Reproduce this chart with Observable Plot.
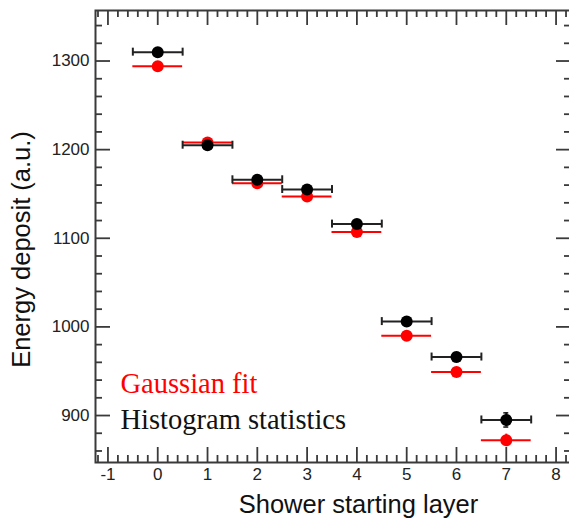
<!DOCTYPE html>
<html>
<head>
<meta charset="utf-8">
<script src="https://cdn.jsdelivr.net/npm/d3@7"></script>
<script src="https://cdn.jsdelivr.net/npm/@observablehq/plot@0.6"></script>
<style>
  html, body { margin: 0; padding: 0; background: #fff; }
  #chart svg { display: block; }
</style>
</head>
<body>
<div id="chart"></div>
<script>
// ---- data ----
const layers = [0, 1, 2, 3, 4, 5, 6, 7];
const histMean = [1310, 1205, 1166, 1155, 1116, 1006, 966, 895];
const histErr = [3, 3, 3, 3, 3, 4, 5, 8];
const gaussMean = [1294, 1208, 1162, 1147, 1107, 990, 949, 872];
const gaussErr = [3, 3, 3, 3, 3, 4, 5, 7];
const layerHalfWidth = 0.5;

const xTicks = [-1, 0, 1, 2, 3, 4, 5, 6, 7, 8];
const yTicks = [900, 1000, 1100, 1200, 1300];
const xMinor = d3.range(-1.2, 8.3, 0.2).map(v => +v.toFixed(1)).filter(v => !xTicks.includes(v));
const yMinor = d3.range(860, 1357, 20).filter(v => !yTicks.includes(v));

const legendLabels = ["Gaussian fit", "Histogram statistics"];
const xLabel = "Shower starting layer";
const yLabel = "Energy deposit (a.u.)";

const hist = layers.map((l, i) => ({layer: l, mean: histMean[i], err: histErr[i]}));
const gauss = layers.map((l, i) => ({layer: l, mean: gaussMean[i], err: gaussErr[i]}));

const W = 569, H = 519;
const mL = 95, mT = 10, mB = 57, mR = -2;
const frameW = W - mL - mR, frameH = H - mT - mB;
const major = 15, minor = 7;
const axisColor = "#3a3a3a";
const red = "#ff0000";
const tw = 1.8;

const chart = Plot.plot({
  width: W,
  height: H,
  marginLeft: mL,
  marginTop: mT,
  marginBottom: mB,
  marginRight: mR,
  style: {fontFamily: "'Liberation Sans', Arial, sans-serif", background: "#fff"},
  x: {domain: [-1.25, 8.31], axis: null},
  y: {domain: [847, 1357], axis: null},
  marks: [
    Plot.frame({stroke: axisColor, strokeWidth: 2}),
    // inward ticks: bottom, top
    Plot.tickX(xTicks, {x: d => d, insetTop: frameH - major, stroke: axisColor, strokeWidth: tw}),
    Plot.tickX(xMinor, {x: d => d, insetTop: frameH - minor, stroke: axisColor, strokeWidth: tw}),
    Plot.tickX(xTicks, {x: d => d, insetBottom: frameH - major, stroke: axisColor, strokeWidth: tw}),
    Plot.tickX(xMinor, {x: d => d, insetBottom: frameH - minor, stroke: axisColor, strokeWidth: tw}),
    // inward ticks: left, right
    Plot.tickY(yTicks, {y: d => d, insetRight: frameW - major, stroke: axisColor, strokeWidth: tw}),
    Plot.tickY(yMinor, {y: d => d, insetRight: frameW - minor, stroke: axisColor, strokeWidth: tw}),
    Plot.tickY(yTicks, {y: d => d, insetLeft: frameW - major, stroke: axisColor, strokeWidth: tw}),
    Plot.tickY(yMinor, {y: d => d, insetLeft: frameW - minor, stroke: axisColor, strokeWidth: tw}),
    // tick labels
    Plot.axisX(xTicks, {tickSize: 0, tickPadding: 5, fontSize: 17, fill: "#222", tickFormat: d => String(d), label: null}),
    Plot.axisY(yTicks, {tickSize: 0, tickPadding: 6, fontSize: 17, fill: "#222", tickFormat: d => String(d), label: null}),
    // axis titles
    Plot.text([xLabel], {frameAnchor: "bottom", dx: 25, dy: 50, lineAnchor: "bottom", textAnchor: "middle", fontSize: 25.5, fill: "#111"}),
    Plot.text([yLabel], {frameAnchor: "left", dx: -74, dy: 13, rotate: -90, lineAnchor: "middle", textAnchor: "middle", fontSize: 25.5, fill: "#111"}),
    // Gaussian fit (red)
    Plot.ruleY(gauss, {y: "mean", x1: d => d.layer - layerHalfWidth, x2: d => d.layer + layerHalfWidth, stroke: red, strokeWidth: 2}),
    Plot.ruleX(gauss, {x: "layer", y1: d => d.mean - d.err, y2: d => d.mean + d.err, stroke: red, strokeWidth: 2}),
    Plot.dot(gauss, {x: "layer", y: "mean", r: 6, fill: red, stroke: null}),
    // Histogram statistics (black)
    Plot.ruleY(hist, {y: "mean", x1: d => d.layer - layerHalfWidth, x2: d => d.layer + layerHalfWidth, stroke: "#222", strokeWidth: 2}),
    Plot.ruleX(hist, {x: d => d.layer - layerHalfWidth, y1: d => d.mean - 4.5, y2: d => d.mean + 4.5, stroke: "#222", strokeWidth: 2}),
    Plot.ruleX(hist, {x: d => d.layer + layerHalfWidth, y1: d => d.mean - 4.5, y2: d => d.mean + 4.5, stroke: "#222", strokeWidth: 2}),
    Plot.ruleX(hist, {x: "layer", y1: d => d.mean - d.err, y2: d => d.mean + d.err, stroke: "#111", strokeWidth: 2}),
    Plot.ruleY(hist, {y: d => d.mean + d.err, x1: d => d.layer - 0.05, x2: d => d.layer + 0.05, stroke: "#111", strokeWidth: 1.5}),
    Plot.ruleY(hist, {y: d => d.mean - d.err, x1: d => d.layer - 0.05, x2: d => d.layer + 0.05, stroke: "#111", strokeWidth: 1.5}),
    Plot.dot(hist, {x: "layer", y: "mean", r: 6, fill: "#000", stroke: null}),
    // legend
    Plot.text([legendLabels[0]], {frameAnchor: "bottom-left", dx: 25, dy: -70, lineAnchor: "bottom", textAnchor: "start", fontSize: 28.5, fontFamily: "'Liberation Serif', 'Times New Roman', serif", fill: red}),
    Plot.text([legendLabels[1]], {frameAnchor: "bottom-left", dx: 25, dy: -34, lineAnchor: "bottom", textAnchor: "start", fontSize: 28.5, fontFamily: "'Liberation Serif', 'Times New Roman', serif", fill: "#111"})
  ]
});
document.getElementById("chart").appendChild(chart);
</script>
</body>
</html>
